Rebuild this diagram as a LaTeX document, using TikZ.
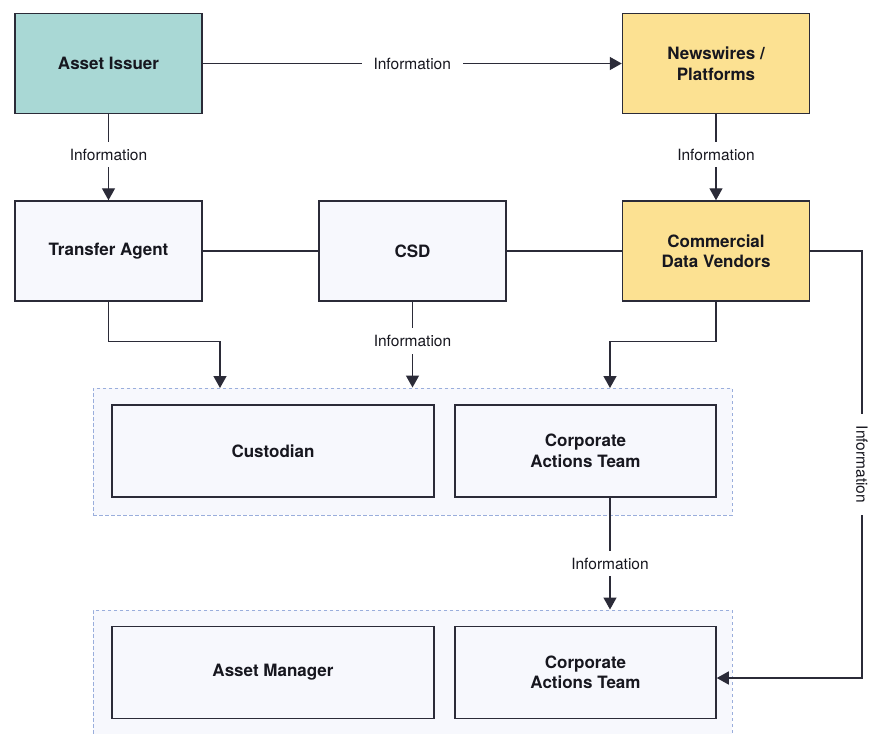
\documentclass[tikz,border=0pt]{standalone}
\usepackage{fontspec}
\setmainfont{TeX Gyre Heros}
\usetikzlibrary{arrows.meta}
\definecolor{issuerfill}{HTML}{A9D8D5}
\definecolor{vendorfill}{HTML}{FCE192}
\definecolor{boxfill}{HTML}{F7F8FD}
\definecolor{edgecol}{HTML}{2B2B38}
\definecolor{dashblue}{HTML}{9AAEDC}
\definecolor{ink}{HTML}{17171F}
\begin{document}
\begin{tikzpicture}[x=1pt,y=-1pt,
  box/.style={draw=edgecol, line width=1.5pt, fill=boxfill, minimum width=187pt, minimum height=100pt,
    align=center, font=\fontsize{17}{20.5}\selectfont\bfseries, text=ink, inner sep=0pt},
  widebox/.style={box, minimum width=322pt, minimum height=92pt},
  catbox/.style={box, minimum width=261pt, minimum height=92pt},
  container/.style={draw=dashblue, line width=1pt, dash pattern=on 3.5pt off 2.5pt, fill=boxfill,
    minimum width=639pt, inner sep=0pt},
  conn/.style={draw=edgecol, line width=1.4pt},
  arr/.style={conn, -{Triangle[width=13pt,length=12pt]}},
  lbl/.style={fill=white, text=ink, font=\fontsize{15.5}{18}\selectfont, inner xsep=12pt, inner ysep=7pt},
  vlbl/.style={lbl, fill=white, rotate=-90}
]
\useasboundingbox (0,0) rectangle (876,734);
\clip (0,0) rectangle (876,734);
\fill[white] (0,0) rectangle (876,734);

% containers
\node[container, minimum height=127pt] (cont1) at (412.5,451.5) {};
\node[container, minimum height=150pt] (cont2) at (412.5,685) {};

% boxes
\node[box, fill=issuerfill] (issuer) at (108.5,63.5) {Asset Issuer};
\node[box, fill=vendorfill] (news) at (716,63.5) {Newswires /\\Platforms};
\node[box] (ta) at (108.5,251) {Transfer Agent};
\node[box] (csd) at (412.5,251) {CSD};
\node[box, fill=vendorfill] (cdv) at (716,251) {Commercial\\Data Vendors};
\node[widebox] (cust) at (273,451) {Custodian};
\node[catbox] (cat1) at (585.5,451) {Corporate\\Actions Team};
\node[widebox] (am) at (273,672.5) {Asset Manager};
\node[catbox] (cat2) at (585.5,672.5) {Corporate\\Actions Team};

% helper coordinates
\coordinate (taIn) at (220,388);
\coordinate (cdvIn) at (610,388);
\coordinate (catx) at (610,0);
\coordinate (rx) at (862,0);

% connectors
\draw[arr] (issuer.east) -- node[lbl] {Information} (news.west);
\draw[arr] (issuer.south) -- node[lbl, pos=0.47] {Information} (ta.north);
\draw[arr] (news.south) -- node[lbl, pos=0.47] {Information} (cdv.north);
\draw[conn] (ta.east) -- (csd.west);
\draw[conn] (csd.east) -- (cdv.west);
\draw[arr] (ta.south) -- ++(0,40) -| (taIn);
\draw[arr] (csd.south) -- node[lbl, pos=0.46] {Information} (csd.south |- cont1.north);
\draw[arr] (cdv.south) -- ++(0,40) -| (cdvIn);
\draw[arr] (cat1.south -| catx) -- node[lbl, pos=0.59] {Information} (cont2.north -| catx);
\draw[arr] (cdv.east) -- (cdv.east -| rx) -- node[vlbl] {Information} ([yshift=-5.5pt]cat2.east -| rx) -- ([yshift=-5.5pt]cat2.east);
\end{tikzpicture}
\end{document}
